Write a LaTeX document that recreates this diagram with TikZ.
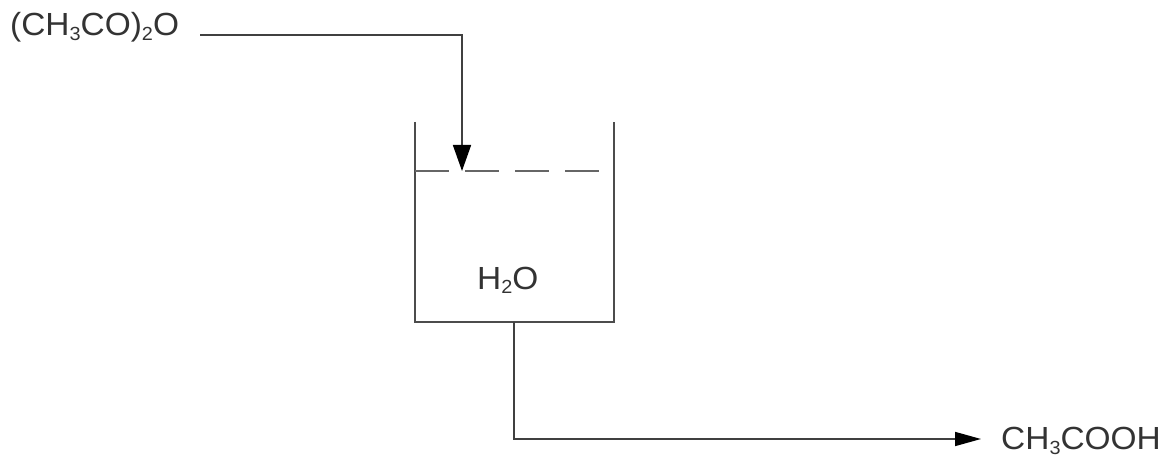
\documentclass[tikz,border=0pt]{standalone}
\usepackage{fontspec}
\usepackage{amsmath}
\setmainfont[FakeStretch=1.045]{Liberation Sans}
\usetikzlibrary{arrows.meta}
\newcommand{\pSub}[1]{\raisebox{-0.15em}[0pt][0pt]{\fontsize{19}{22}\selectfont #1}}
\tikzset{
  chemlabel/.style={anchor=base west, inner sep=0pt, text=black!80, font=\fontsize{32}{38}\selectfont},
  tankwall/.style={line width=1.6pt, draw=black!70},
  flowline/.style={line width=1.6pt, draw=black!75},
  liquidline/.style={line width=1.2pt, draw=black!60, dash pattern=on 34pt off 16pt},
}
\begin{document}
\begin{tikzpicture}[x=1pt,y=-1pt]
\useasboundingbox (0,0) rectangle (1167,457);
\node[chemlabel] (anhydride) at (10,36) {(CH\pSub{3}CO)\pSub{2}O};
\node[chemlabel] (water) at (477,289) {H\pSub{2}O};
\node[chemlabel] (acid) at (1001,449.5) {CH\pSub{3}COOH};
\coordinate (feedstart) at (200,35);
\coordinate (feedbend) at (462,35);
\coordinate (feedend) at (462,171);
\coordinate (tanktl) at (415,122);
\coordinate (tankbl) at (415,322);
\coordinate (tankbr) at (614,322);
\coordinate (tanktr) at (614,122);
\coordinate (levelstart) at (415,171);
\coordinate (levelend) at (600,171);
\coordinate (drainstart) at (514,322);
\coordinate (drainbend) at (514,439);
\coordinate (drainend) at (981,439);
\draw[tankwall] (tanktl) -- (tankbl) -- (tankbr) -- (tanktr);
\draw[liquidline] (levelstart) -- (levelend);
\draw[flowline, -{Triangle[length=26pt,width=18pt,color=black]}] (feedstart) -- (feedbend) -- (feedend);
\draw[flowline, -{Triangle[length=26pt,width=14pt,color=black]}] (drainstart) -- (drainbend) -- (drainend);
\end{tikzpicture}
\end{document}
